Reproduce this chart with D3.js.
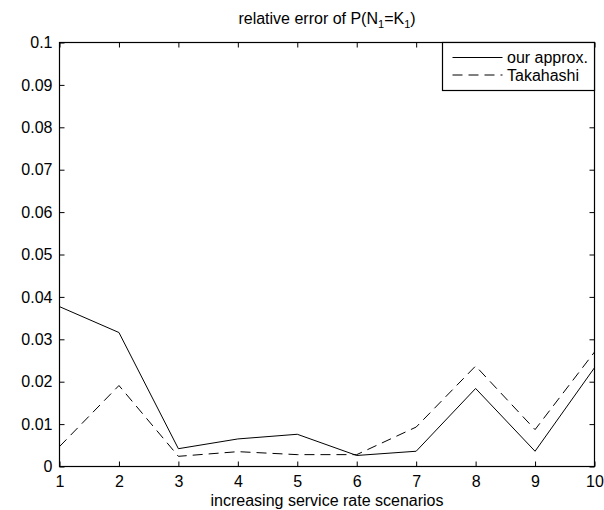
<!DOCTYPE html>
<html>
<head>
<meta charset="utf-8">
<script src="https://cdn.jsdelivr.net/npm/d3@7/dist/d3.min.js"></script>
<style>
  html, body { margin: 0; padding: 0; background: #fff; }
  svg { display: block; }
  text { font-family: "Liberation Sans", Arial, Helvetica, sans-serif; fill: #000; }
</style>
</head>
<body>
<svg id="chart" width="604" height="510"></svg>
<script>
// ---- data ----
const scenarios = [1, 2, 3, 4, 5, 6, 7, 8, 9, 10];
const ourApprox = [0.0377, 0.0316, 0.0042, 0.0065, 0.0076, 0.0026, 0.0036, 0.0184, 0.0036, 0.0233];
const takahashi = [0.0047, 0.0191, 0.0024, 0.0035, 0.0028, 0.0028, 0.0093, 0.0237, 0.0087, 0.0270];
const xTicks = [1, 2, 3, 4, 5, 6, 7, 8, 9, 10];
const yTicks = [0, 0.01, 0.02, 0.03, 0.04, 0.05, 0.06, 0.07, 0.08, 0.09, 0.1];
const yTickLabels = ["0", "0.01", "0.02", "0.03", "0.04", "0.05", "0.06", "0.07", "0.08", "0.09", "0.1"];
const seriesNames = ["our approx.", "Takahashi"];
const xLabel = "increasing service rate scenarios";

// ---- layout ----
const svg = d3.select("#chart");
const pL = 59.5, pR = 594.5, pT = 42.5, pB = 466.5;
const fs = 16;
const x = d3.scaleLinear().domain([1, 10]).range([pL, pR]);
const y = d3.scaleLinear().domain([0, 0.1]).range([pB, pT]);
const tickLen = 5;

const gB = svg.append("g").attr("transform", `translate(0,${pB})`)
  .call(d3.axisBottom(x).tickValues(xTicks).tickSizeInner(-tickLen).tickSizeOuter(0).tickPadding(9).tickFormat(d3.format("d")));
const gT = svg.append("g").attr("transform", `translate(0,${pT})`)
  .call(d3.axisTop(x).tickValues(xTicks).tickSizeInner(-tickLen).tickSizeOuter(0).tickFormat(""));
const gL = svg.append("g").attr("transform", `translate(${pL},0)`)
  .call(d3.axisLeft(y).tickValues(yTicks).tickSizeInner(-tickLen).tickSizeOuter(0).tickPadding(7).tickFormat((d, i) => yTickLabels[i]));
const gR = svg.append("g").attr("transform", `translate(${pR},0)`)
  .call(d3.axisRight(y).tickValues(yTicks).tickSizeInner(-tickLen).tickSizeOuter(0).tickFormat(""));

[gB, gT, gL, gR].forEach(g => {
  g.selectAll("path.domain").remove();
  g.selectAll(".tick line").attr("stroke", "#000").attr("stroke-width", 1);
  g.selectAll(".tick text").attr("font-size", fs).attr("font-family", "Liberation Sans, Arial, sans-serif").attr("fill", "#000");
});

// box
svg.append("rect").attr("x", pL).attr("y", pT).attr("width", pR - pL).attr("height", pB - pT)
  .attr("fill", "none").attr("stroke", "#000").attr("stroke-width", 1.2);

// lines
const line = d3.line().x((d, i) => x(scenarios[i])).y(d => y(d));
svg.append("path").datum(ourApprox).attr("d", line)
  .attr("fill", "none").attr("stroke", "#000").attr("stroke-width", 1);
svg.append("path").datum(takahashi).attr("d", line)
  .attr("fill", "none").attr("stroke", "#000").attr("stroke-width", 1).attr("stroke-dasharray", "10,6");

// title with subscripts
const title = svg.append("text").attr("x", (pL + pR) / 2).attr("y", 24)
  .attr("text-anchor", "middle").attr("font-size", fs);
title.append("tspan").text("relative error of P(N");
title.append("tspan").attr("font-size", 11).attr("dy", 4).text("1");
title.append("tspan").attr("dy", -4).text("=K");
title.append("tspan").attr("font-size", 11).attr("dy", 4).text("1");
title.append("tspan").attr("dy", -4).text(")");

// x label
svg.append("text").attr("x", (pL + pR) / 2).attr("y", 506)
  .attr("text-anchor", "middle").attr("font-size", fs).text(xLabel);

// legend
const lgX = 442.5, lgY = 42.5, lgW = pR - lgX, lgH = 48;
svg.append("rect").attr("x", lgX).attr("y", lgY).attr("width", lgW).attr("height", lgH)
  .attr("fill", "#fff").attr("stroke", "#000").attr("stroke-width", 1.2);
const rows = [57.5, 75];
seriesNames.forEach((name, i) => {
  svg.append("line").attr("x1", 452.5).attr("x2", 502.5).attr("y1", rows[i]).attr("y2", rows[i])
    .attr("stroke", "#000").attr("stroke-width", 1)
    .attr("stroke-dasharray", i === 1 ? "10,6" : null);
  svg.append("text").attr("x", 507).attr("y", rows[i]).attr("dy", "0.35em")
    .attr("font-size", fs).text(name);
});
</script>
</body>
</html>
